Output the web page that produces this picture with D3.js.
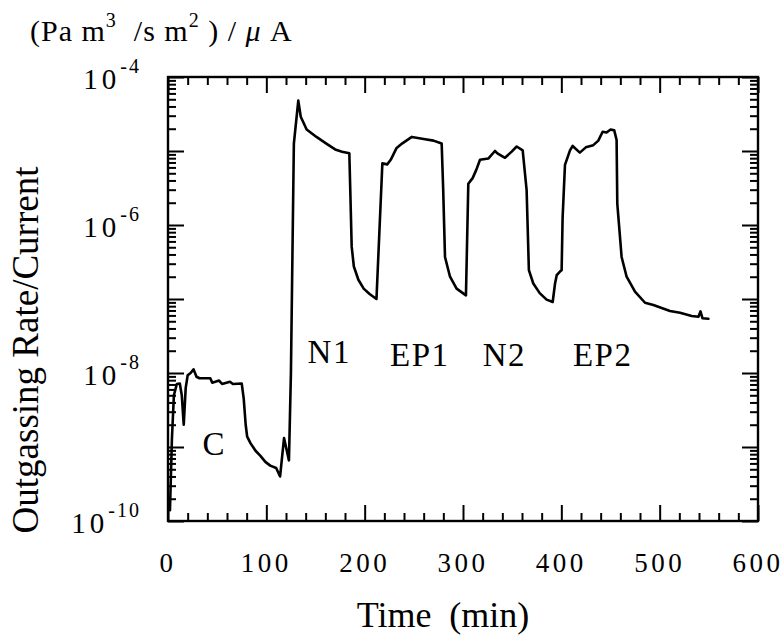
<!DOCTYPE html>
<html>
<head>
<meta charset="utf-8">
<script src="https://cdn.jsdelivr.net/npm/d3@7"></script>
<style>
  html, body { margin: 0; padding: 0; background: #fff; }
  svg { display: block; }
  text { font-family: "Liberation Serif", "DejaVu Serif", serif; fill: #000; }
</style>
</head>
<body>
<svg id="chart" width="784" height="635"></svg>
<script>
// Time in minutes
const timeMin = [2, 4, 6, 9, 12, 14, 16, 18, 20, 23, 26, 29, 32, 43, 45, 52, 55, 63, 66, 75,
  77, 79, 80.5, 84, 89, 94, 99, 104, 110, 114, 118, 123, 125, 128, 132.5, 135, 141, 151, 161, 170,
  177, 184.4, 185.5, 186.8, 189, 193.6, 199, 205, 212, 218, 223, 226.5, 232.5, 238, 248, 260, 270, 278.3,
  279.8, 281.7, 286.8, 293.5, 303, 305.4, 309.8, 313.6, 317.3, 325.7, 332.5, 335, 342.7, 349.5, 354.6, 360.7,
  364.7, 367, 371.5, 378, 385, 391.2, 393.6, 395.3, 398.6, 400.3, 401.3, 403.7, 408.8, 411.5, 418.8, 424.9,
  432.5, 437.6, 442, 446, 450.1, 453.8, 456.2, 456.9, 461.3, 466.4, 474.9, 485.1, 493.6, 510.5, 520.7, 532.6,
  539.4, 541.5, 543.5, 549.5];

// Outgassing rate per beam current, (Pa m^3 / s m^2) / uA
const rate = [1.4e-10, 1.3e-9, 5.0e-9, 7.1e-9, 7.2e-9, 5.0e-9, 2.0e-9, 6.3e-9, 9.3e-9, 1.0e-8, 1.12e-8, 8.9e-9, 8.5e-9, 8.5e-9, 7.4e-9, 7.9e-9, 7.1e-9, 7.6e-9, 7.1e-9, 7.2e-9,
  4.5e-9, 2.0e-9, 1.38e-9, 1.12e-9, 8.9e-10, 7.6e-10, 6.3e-10, 5.6e-10, 5.2e-10, 4.0e-10, 1.32e-9, 6.6e-10, 1.0e-8, 1.26e-5, 4.8e-5, 2.9e-5, 1.95e-5, 1.55e-5, 1.26e-5, 1.05e-5,
  9.8e-6, 9.3e-6, 2.5e-6, 5.1e-7, 2.75e-7, 1.82e-7, 1.38e-7, 1.17e-7, 1.0e-7, 6.8e-6, 6.6e-6, 7.6e-6, 1.1e-5, 1.26e-5, 1.55e-5, 1.45e-5, 1.38e-5, 1.26e-5,
  3.2e-6, 3.7e-7, 2.0e-7, 1.38e-7, 1.12e-7, 3.6e-6, 4.3e-6, 5.6e-6, 7.6e-6, 7.9e-6, 1.0e-5, 9.3e-6, 8.1e-6, 9.8e-6, 1.15e-5, 1.02e-5,
  2.95e-6, 2.45e-7, 1.62e-7, 1.2e-7, 9.8e-8, 9.1e-8, 1.62e-7, 2.1e-7, 2.35e-7, 2.45e-7, 1.26e-6, 6.5e-6, 1.02e-5, 1.17e-5, 9.5e-6, 1.12e-5,
  1.2e-5, 1.38e-5, 1.82e-5, 1.78e-5, 1.95e-5, 1.9e-5, 1.41e-5, 1.95e-6, 3.7e-7, 2.0e-7, 1.26e-7, 8.9e-8, 8.3e-8, 6.9e-8, 6.5e-8, 5.9e-8,
  5.75e-8, 6.8e-8, 5.5e-8, 5.4e-8];

const xTicks = [0, 100, 200, 300, 400, 500, 600];
const yTickExponents = [-4, -6, -8, -10];

// Stage labels: C, nitrogen N1/N2, electropolished EP1/EP2
const stageNames = ["C", "N1", "EP1", "N2", "EP2"];
const stageTime = [47, 164, 256, 342, 442];
const stageRate = [7.8e-10, 1.36e-8, 1.25e-8, 1.25e-8, 1.25e-8];

const svg = d3.select("#chart");
const plotL = 168, plotR = 758, plotT = 77, plotB = 521;

const x = d3.scaleLinear().domain([0, 600]).range([plotL, plotR]);
const y = d3.scaleLog().domain([1e-10, 1e-4]).range([plotB, plotT]);

const majorLen = 16, minorLen = 8;

const xMinor = d3.range(0, 601, 20).filter(v => v % 100 !== 0);
const xMajor = d3.range(0, 601, 100);
const yMajor = d3.range(-10, -3).map(e => Math.pow(10, e));
const yMinor = [];
d3.range(-10, -4).forEach(e => { for (let k = 2; k <= 9; k++) yMinor.push(k * Math.pow(10, e)); });

// Inward-pointing ticks on all four sides
function drawAxis(gen, tx, ty, values, len) {
  const a = svg.append("g").attr("transform", `translate(${tx},${ty})`)
    .call(gen.tickValues(values).tickSizeInner(-len).tickSizeOuter(0).tickFormat(""));
  a.select(".domain").remove();
  a.selectAll(".tick line").attr("stroke", "#000").attr("stroke-width", 2);
}
[[xMinor, minorLen], [xMajor, majorLen]].forEach(([v, l]) => {
  drawAxis(d3.axisBottom(x), 0, plotB, v, l);
  drawAxis(d3.axisTop(x), 0, plotT, v, l);
});
[[yMinor, minorLen], [yMajor, majorLen]].forEach(([v, l]) => {
  drawAxis(d3.axisLeft(y), plotL, 0, v, l);
  drawAxis(d3.axisRight(y), plotR, 0, v, l);
});

// Frame
svg.append("rect").attr("x", plotL).attr("y", plotT).attr("width", plotR - plotL).attr("height", plotB - plotT)
  .attr("fill", "none").attr("stroke", "#000").attr("stroke-width", 2.4);

// Data curve
const line = d3.line().x((d, i) => x(timeMin[i])).y(d => y(d)).curve(d3.curveLinear);
svg.append("path").datum(rate).attr("d", line)
  .attr("fill", "none").attr("stroke", "#000").attr("stroke-width", 2.6)
  .attr("stroke-linejoin", "round").attr("stroke-linecap", "round");

// X tick labels
svg.append("g").selectAll("text").data(xTicks).join("text")
  .attr("x", d => x(d)).attr("y", 572)
  .attr("text-anchor", "middle").attr("font-size", 27).attr("letter-spacing", 3.5)
  .text(d => d);

// Y tick labels: 10 with superscript exponent
const yl = svg.append("g");
yTickExponents.forEach(e => {
  const t = yl.append("text").attr("x", 141).attr("y", y(Math.pow(10, e)) + 12)
    .attr("text-anchor", "end").attr("font-size", 29);
  t.append("tspan").attr("letter-spacing", 4).text("10");
  t.append("tspan").attr("font-size", 20).attr("dy", -16).attr("letter-spacing", 2).text("-" + (-e));
});

// Axis titles
svg.append("text").attr("x", 443).attr("y", 627).attr("text-anchor", "middle")
  .attr("font-size", 36).attr("xml:space", "preserve").text("Time  (min)");

svg.append("text").attr("transform", "translate(38,350) rotate(-90)")
  .attr("text-anchor", "middle").attr("font-size", 37).text("Outgassing Rate/Current");

// Unit label
const u = svg.append("text").attr("x", 30).attr("y", 41).attr("font-size", 30)
  .attr("letter-spacing", 1).attr("xml:space", "preserve");
u.append("tspan").text("(Pa m");
u.append("tspan").attr("font-size", 20).attr("dy", -14).text("3");
u.append("tspan").attr("dy", 14).text("  /s m");
u.append("tspan").attr("font-size", 20).attr("dy", -14).text("2");
u.append("tspan").attr("dy", 14).text(" ) / ");
u.append("tspan").attr("font-style", "italic").text("μ");
u.append("tspan").text(" A");

// Stage labels
svg.append("g").selectAll("text").data(stageNames).join("text")
  .attr("x", (d, i) => x(stageTime[i])).attr("y", (d, i) => y(stageRate[i]))
  .attr("text-anchor", "middle").attr("font-size", 33).attr("letter-spacing", 1.5)
  .text(d => d);
</script>
</body>
</html>
